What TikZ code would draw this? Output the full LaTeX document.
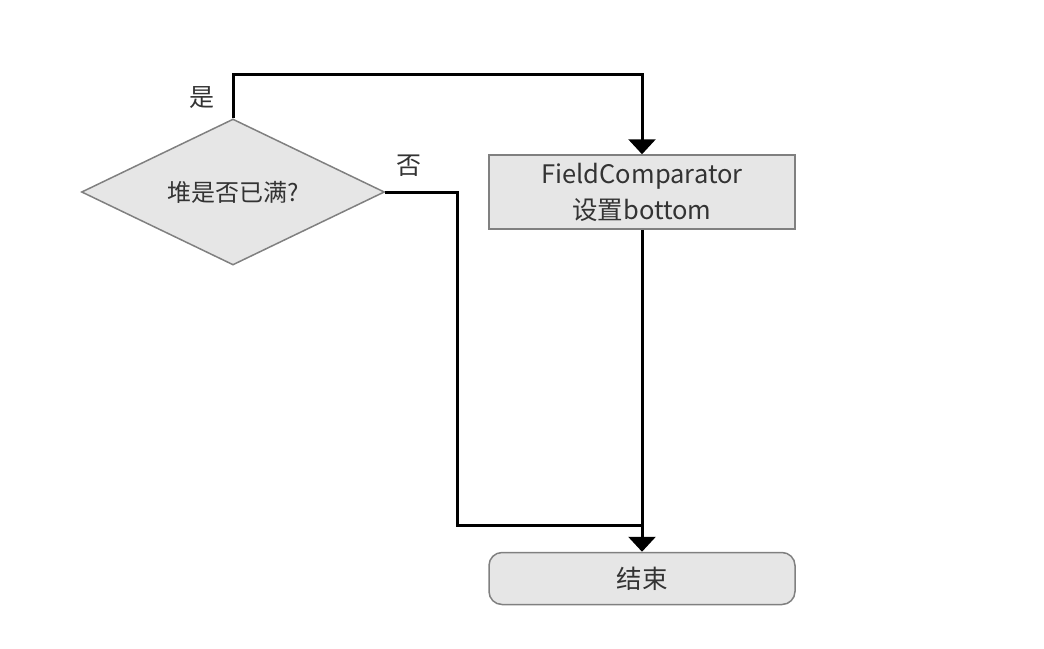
\documentclass[tikz,border=0pt]{standalone}
\usepackage{fontspec}
\setmainfont{Noto Sans CJK SC}
\usepackage{tikz}
\usetikzlibrary{positioning,calc,arrows.meta,shapes.geometric}
\definecolor{boxfill}{HTML}{E6E6E6}
\definecolor{boxline}{HTML}{808080}
\definecolor{txt}{HTML}{333333}

\begin{document}
\begin{tikzpicture}[x=1pt,y=-1pt,
  decision/.style={diamond, aspect=2, draw=boxline, fill=boxfill, line width=1.5pt,
    minimum width=303pt, minimum height=146pt, inner sep=0pt, text=txt, font=\fontsize{24}{28}\selectfont},
  process/.style={rectangle, draw=boxline, fill=boxfill, line width=1.5pt,
    minimum width=306pt, minimum height=74pt, inner sep=0pt, align=center, text=txt,
    font=\fontsize{25.5}{36}\selectfont},
  terminal/.style={process, rounded corners=13pt, minimum height=52pt},
  lbl/.style={text=txt, font=\fontsize{25}{28}\selectfont, inner sep=0pt},
  line/.style={line width=3pt, black},
  flow/.style={line, -{Triangle[width=27pt,length=15pt]}}]
\useasboundingbox (0,0) rectangle (1044,648);
\node[decision] (full) at (233,192) {堆是否已满?};
\node[process, right=103pt of full] (cmp) {FieldComparator\\设置bottom};
\node[terminal, below=322pt of cmp] (end) {结束};
\coordinate[above=26pt of end.north] (join);
\node[lbl] (yes) at (202,98) {是};
\node[lbl] (no) at (409,166) {否};
\draw[flow] (full.north) -- ++(0,-44) -| (cmp.north);
\draw[line] (full.east) -- ++(72,0) |- (join);
\draw[flow] (cmp.south) -- (end.north);
\end{tikzpicture}
\end{document}
